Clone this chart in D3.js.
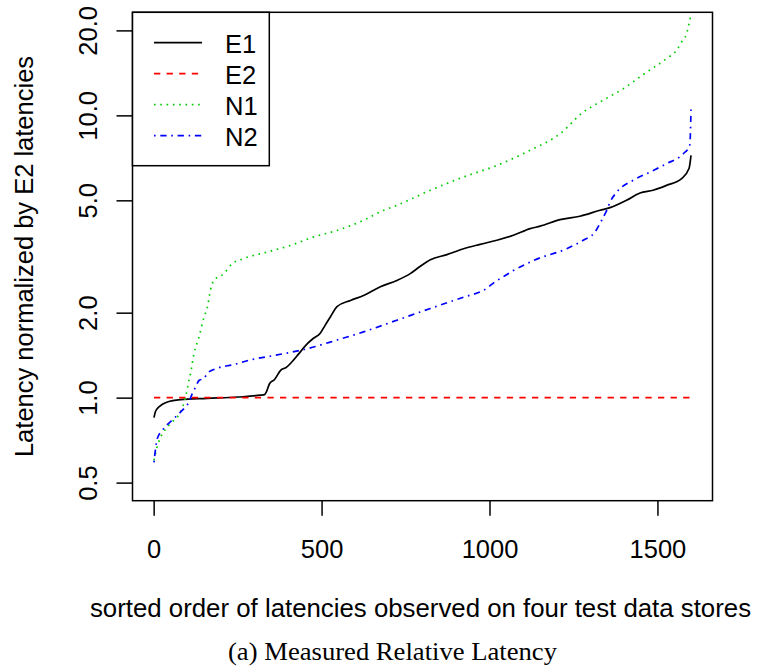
<!DOCTYPE html>
<html><head><meta charset="utf-8">
<script src="https://cdn.jsdelivr.net/npm/d3@7"></script>
<style>body{margin:0;background:#fff}</style>
</head><body>
<svg id="c" width="757" height="668"></svg>
<script>
const seriesNames = ["E1", "E2", "N1", "N2"];
const seriesColors = ["#000000", "#ff0000", "#00cd00", "#0000ff"];

const e1Index = [1, 5, 11, 25, 41, 80, 160, 250, 318, 330, 336, 345, 360, 378, 395, 412, 430, 457, 475, 496, 510, 526, 546, 586, 625, 675, 724, 764, 794, 824, 873, 923, 972, 1022, 1071, 1121, 1151, 1210, 1269, 1329, 1359, 1408, 1448, 1487, 1527, 1572, 1594, 1600];
const e1Value = [0.85, 0.89, 0.915, 0.945, 0.965, 0.984, 0.994, 1.005, 1.02, 1.025, 1.05, 1.12, 1.16, 1.25, 1.28, 1.34, 1.42, 1.55, 1.62, 1.69, 1.8, 1.93, 2.10, 2.21, 2.30, 2.47, 2.60, 2.75, 2.92, 3.08, 3.21, 3.37, 3.49, 3.61, 3.76, 3.97, 4.05, 4.27, 4.39, 4.61, 4.71, 5.00, 5.31, 5.43, 5.65, 5.97, 6.48, 7.22];

const e2Index = [1, 1600];
const e2Value = [1.0, 1.0];

const n1Index = [1, 6, 21, 41, 60, 80, 95, 105, 110, 120, 135, 150, 160, 169, 179, 209, 234, 268, 338, 407, 477, 546, 625, 685, 724, 824, 923, 1022, 1121, 1210, 1279, 1329, 1398, 1468, 1527, 1557, 1572, 1587, 1594, 1600];
const n1Value = [0.60, 0.64, 0.725, 0.787, 0.831, 0.889, 1.005, 1.15, 1.22, 1.43, 1.64, 1.93, 2.09, 2.40, 2.60, 2.75, 2.98, 3.11, 3.28, 3.46, 3.71, 3.91, 4.25, 4.61, 4.80, 5.43, 6.05, 6.65, 7.52, 8.61, 10.27, 11.15, 12.43, 14.23, 15.88, 17.0, 18.2, 19.5, 21.1, 22.8];

const n2Index = [1, 11, 26, 60, 85, 105, 115, 125, 135, 150, 160, 189, 239, 288, 358, 457, 546, 625, 724, 824, 923, 982, 1022, 1041, 1071, 1121, 1131, 1230, 1279, 1314, 1334, 1349, 1359, 1379, 1428, 1478, 1527, 1577, 1596, 1598, 1600];
const n2Value = [0.59, 0.716, 0.766, 0.843, 0.901, 0.965, 1.033, 1.09, 1.15, 1.17, 1.22, 1.27, 1.31, 1.36, 1.41, 1.49, 1.60, 1.71, 1.88, 2.07, 2.27, 2.40, 2.60, 2.68, 2.82, 3.02, 3.06, 3.37, 3.61, 3.86, 4.25, 4.61, 4.93, 5.35, 5.89, 6.30, 6.74, 7.31, 7.8, 8.5, 10.6];

const xTicks = [0, 500, 1000, 1500];
const yTicks = [0.5, 1, 2, 5, 10, 20];
const yTickLabels = ["0.5", "1.0", "2.0", "5.0", "10.0", "20.0"];
const xLabel = "sorted order of latencies observed on four test data stores";
const yLabel = "Latency normalized by E2 latencies";
const caption = "(a) Measured Relative Latency";
const xLim = [1, 1600];
const yLim = [0.5, 20];

(function () {
const seriesData = [
  d3.zip(e1Index, e1Value),
  d3.zip(e2Index, e2Value),
  d3.zip(n1Index, n1Value),
  d3.zip(n2Index, n2Value)
];
const dashes = [null, "6.3,6.3", "1.6,4.7", "1.6,4.7,6.3,4.7"];

const svg = d3.select("#c");
const pL = 132.5, pR = 712.5, pT = 12.3, pB = 500.7;
const font = "'Liberation Sans', Arial, Helvetica, sans-serif";
const fs = 25.5;

const xp = (xLim[1] - xLim[0]) * 0.04;
const x = d3.scaleLinear().domain([xLim[0] - xp, xLim[1] + xp]).range([pL, pR]);
const lo = Math.log10(yLim[0]), hi = Math.log10(yLim[1]), lp = (hi - lo) * 0.04;
const y = d3.scaleLog().domain([Math.pow(10, lo - lp), Math.pow(10, hi + lp)]).range([pB, pT]);

svg.append("rect").attr("width", 757).attr("height", 668).attr("fill", "#fff");

svg.append("clipPath").attr("id", "clip").append("rect")
  .attr("x", pL).attr("y", pT).attr("width", pR - pL).attr("height", pB - pT);

const line = d3.line().x(d => x(d[0])).y(d => y(d[1])).curve(d3.curveMonotoneX);
const lg = svg.append("g").attr("clip-path", "url(#clip)");
seriesData.forEach((s, i) => {
  lg.append("path").datum(s).attr("d", line)
    .attr("fill", "none").attr("stroke", seriesColors[i]).attr("stroke-width", 1.7)
    .attr("stroke-dasharray", dashes[i]);
});

// x axis
const xa = svg.append("g").attr("transform", `translate(0,${pB})`)
  .call(d3.axisBottom(x).tickValues(xTicks).tickSize(15).tickFormat(d3.format("d")));
xa.select(".domain").remove();
xa.selectAll("line").attr("stroke", "#000").attr("stroke-width", 1.5);
xa.selectAll("text").attr("y", 57).attr("dy", null)
  .attr("font-family", font).attr("font-size", fs).attr("fill", "#000");

// y axis
const ya = svg.append("g").attr("transform", `translate(${pL},0)`)
  .call(d3.axisLeft(y).tickValues(yTicks).tickSize(16).tickFormat((d, i) => yTickLabels[i]));
ya.select(".domain").remove();
ya.selectAll("line").attr("stroke", "#000").attr("stroke-width", 1.5);
ya.selectAll("text").attr("x", 0).attr("y", 0).attr("dy", null)
  .attr("transform", "translate(-36,0) rotate(-90)").attr("text-anchor", "middle")
  .attr("font-family", font).attr("font-size", fs).attr("fill", "#000");

// box
svg.append("rect").attr("x", pL).attr("y", pT).attr("width", pR - pL).attr("height", pB - pT)
  .attr("fill", "none").attr("stroke", "#000").attr("stroke-width", 1.5);

// axis titles
svg.append("text").attr("x", 420.5).attr("y", 617).attr("text-anchor", "middle")
  .attr("font-family", font).attr("font-size", 25.8).text(xLabel);
svg.append("text").attr("transform", `translate(33,${(pT + pB) / 2}) rotate(-90)`)
  .attr("text-anchor", "middle").attr("font-family", font).attr("font-size", fs).text(yLabel);

// caption
svg.append("text").attr("x", 392.5).attr("y", 660).attr("text-anchor", "middle")
  .attr("font-family", "'Liberation Serif', 'Times New Roman', serif").attr("font-size", 24.5)
  .attr("textLength", 329).attr("lengthAdjust", "spacingAndGlyphs").text(caption);

// legend
const legend = svg.append("g");
legend.append("rect").attr("x", pL).attr("y", pT).attr("width", 269.3 - pL).attr("height", 165.7 - pT)
  .attr("fill", "#fff").attr("stroke", "#000").attr("stroke-width", 1.5);
seriesNames.forEach((n, i) => {
  const ry = 42.7 + i * 31;
  legend.append("line").attr("x1", 154).attr("x2", 202).attr("y1", ry).attr("y2", ry)
    .attr("stroke", seriesColors[i]).attr("stroke-width", 1.7).attr("stroke-dasharray", dashes[i]);
  legend.append("text").attr("x", 225).attr("y", ry + 10.5)
    .attr("font-family", font).attr("font-size", fs).attr("fill", "#000").text(n);
});
})();
</script>
</body></html>
